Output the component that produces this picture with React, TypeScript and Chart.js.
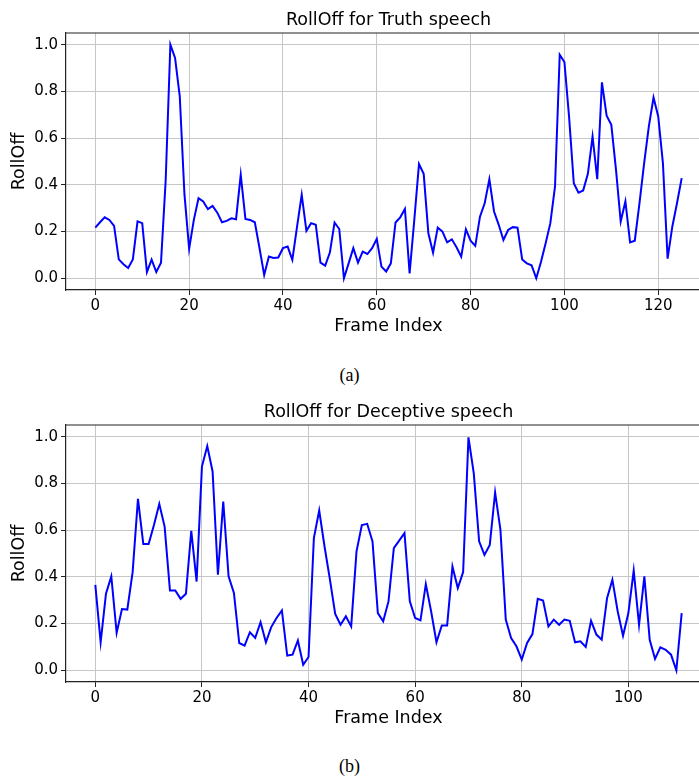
import React, { useEffect, useRef } from "react";
import { Chart, registerables } from "chart.js";

Chart.register(...registerables);

const TRUTH_TITLE = "RollOff for Truth speech";
const DECEPTIVE_TITLE = "RollOff for Deceptive speech";
const X_LABEL = "Frame Index";
const Y_LABEL = "RollOff";

const TRUTH_VALUES = [
  0.217, 0.24, 0.261, 0.25, 0.224, 0.081, 0.06, 0.044, 0.081, 0.244,
  0.236, 0.027, 0.08, 0.027, 0.067, 0.42, 1.0, 0.943, 0.779, 0.36,
  0.126, 0.25, 0.343, 0.329, 0.296, 0.31, 0.281, 0.24, 0.246, 0.257,
  0.253, 0.443, 0.254, 0.25, 0.24, 0.13, 0.014, 0.093, 0.087, 0.089,
  0.129, 0.136, 0.079, 0.22, 0.357, 0.203, 0.236, 0.229, 0.067, 0.054,
  0.11, 0.239, 0.211, 0.0, 0.064, 0.129, 0.067, 0.114, 0.104, 0.129,
  0.169, 0.05, 0.029, 0.064, 0.239, 0.261, 0.297, 0.021, 0.25, 0.489,
  0.447, 0.193, 0.11, 0.217, 0.2, 0.154, 0.167, 0.133, 0.093, 0.21,
  0.161, 0.139, 0.264, 0.321, 0.424, 0.286, 0.229, 0.164, 0.207, 0.219,
  0.217, 0.081, 0.064, 0.056, 0.0, 0.07, 0.15, 0.236, 0.393, 0.957,
  0.926, 0.69, 0.407, 0.367, 0.376, 0.447, 0.607, 0.424, 0.839, 0.696,
  0.657, 0.464, 0.243, 0.329, 0.154, 0.161, 0.321, 0.493, 0.65, 0.774,
  0.693, 0.493, 0.084, 0.221, 0.321, 0.429,
];

const DECEPTIVE_VALUES = [
  0.366, 0.12, 0.328, 0.402, 0.16, 0.262, 0.26, 0.42, 0.734, 0.541,
  0.541, 0.622, 0.712, 0.615, 0.342, 0.342, 0.306, 0.328, 0.597, 0.38,
  0.872, 0.96, 0.851, 0.409, 0.722, 0.402, 0.331, 0.117, 0.106, 0.163,
  0.139, 0.206, 0.12, 0.185, 0.224, 0.256, 0.063, 0.067, 0.128, 0.024,
  0.057, 0.566, 0.684, 0.53, 0.39, 0.241, 0.195, 0.231, 0.188, 0.509,
  0.622, 0.627, 0.552, 0.245, 0.21, 0.295, 0.523, 0.555, 0.587, 0.295,
  0.224, 0.214, 0.369, 0.252, 0.12, 0.192, 0.192, 0.444, 0.352, 0.42,
  0.997, 0.843, 0.552, 0.494, 0.537, 0.761, 0.601, 0.217, 0.138, 0.103,
  0.046, 0.117, 0.155, 0.306, 0.299, 0.188, 0.217, 0.195, 0.217, 0.212,
  0.12, 0.124, 0.1, 0.212, 0.153, 0.131, 0.309, 0.388, 0.252, 0.148,
  0.245, 0.427, 0.195, 0.402, 0.131, 0.049, 0.098, 0.088, 0.067, 0.0,
  0.245,
];

const TRUTH_X_TICKS = [0, 20, 40, 60, 80, 100, 120];
const DECEPTIVE_X_TICKS = [0, 20, 40, 60, 80, 100];
const Y_TICKS = [0.0, 0.2, 0.4, 0.6, 0.8, 1.0];

const CANVAS_W = 720;
const CANVAS_H = 345;
const FONT = "'DejaVu Sans', sans-serif";

function makeConfig(values: number[], xTicks: number[], title: string) {
  const n = values.length - 1;
  const margin = n * 0.05;
  const textPlugin = {
    id: "texts",
    afterDraw(chart: any) {
      const { ctx, chartArea } = chart;
      const cx = (chartArea.left + chartArea.right) / 2;
      ctx.save();
      ctx.strokeStyle = "#222";
      ctx.lineWidth = 1.2;
      ctx.beginPath();
      ctx.moveTo(chartArea.left, chartArea.top);
      ctx.lineTo(chartArea.right, chartArea.top);
      ctx.lineTo(chartArea.right, chartArea.bottom);
      ctx.stroke();
      ctx.fillStyle = "#000";
      ctx.textAlign = "center";
      ctx.textBaseline = "middle";
      ctx.font = `17.5px ${FONT}`;
      ctx.fillText(title, cx, 20);
      ctx.fillText(X_LABEL, cx, 326);
      ctx.translate(19.5, (chartArea.top + chartArea.bottom) / 2);
      ctx.rotate(-Math.PI / 2);
      ctx.fillText(Y_LABEL, 0, 0);
      ctx.restore();
    },
  };
  return {
    type: "line" as const,
    data: {
      datasets: [
        {
          data: values.map((v, i) => ({ x: i, y: v })),
          borderColor: "#0000ff",
          borderWidth: 2,
          pointRadius: 0,
          tension: 0,
          fill: false,
        },
      ],
    },
    options: {
      animation: false as const,
      responsive: false,
      devicePixelRatio: 1,
      layout: { padding: { top: 33, right: CANVAS_W - 711, left: 0, bottom: 0 } },
      plugins: { legend: { display: false }, tooltip: { enabled: false }, title: { display: false } },
      scales: {
        x: {
          type: "linear" as const,
          min: -margin,
          max: n + margin,
          afterBuildTicks: (s: any) => {
            s.ticks = xTicks.map((v) => ({ value: v }));
          },
          afterFit: (s: any) => {
            s.height = 55;
          },
          ticks: {
            font: { family: FONT, size: 15 },
            color: "#000",
            padding: 2,
            maxRotation: 0,
            autoSkip: false,
            callback: (v: any) => String(v),
          },
          grid: { color: "#c6c6c6", lineWidth: 1, tickLength: 5, tickColor: "#222", drawTicks: true },
          border: { color: "#222", width: 1.2 },
        },
        y: {
          type: "linear" as const,
          min: -0.05,
          max: 1.05,
          afterBuildTicks: (s: any) => {
            s.ticks = Y_TICKS.map((v) => ({ value: v }));
          },
          afterFit: (s: any) => {
            s.width = 66;
          },
          ticks: {
            font: { family: FONT, size: 15 },
            color: "#000",
            padding: 3,
            autoSkip: false,
            callback: (v: any) => Number(v).toFixed(1),
          },
          grid: { color: "#c6c6c6", lineWidth: 1, tickLength: 5, tickColor: "#222", drawTicks: true },
          border: { color: "#222", width: 1.2 },
        },
      },
    },
    plugins: [textPlugin],
  };
}

function LineChart({ values, xTicks, title }: { values: number[]; xTicks: number[]; title: string }) {
  const ref = useRef<HTMLCanvasElement | null>(null);
  useEffect(() => {
    if (!ref.current) return;
    const chart = new Chart(ref.current, makeConfig(values, xTicks, title) as any);
    return () => chart.destroy();
  }, [values, xTicks, title]);
  return (
    <canvas
      ref={ref}
      width={CANVAS_W}
      height={CANVAS_H}
      style={{ width: CANVAS_W, height: CANVAS_H, display: "block" }}
    />
  );
}

const captionStyle: React.CSSProperties = {
  position: "absolute",
  left: 0,
  width: 699,
  textAlign: "center",
  fontFamily: "'Liberation Serif', 'Times New Roman', serif",
  fontSize: 18,
  lineHeight: "20px",
  color: "#000",
};

export default function App() {
  return (
    <div
      style={{
        position: "absolute",
        left: 0,
        top: 0,
        width: 699,
        height: 777,
        overflow: "hidden",
        background: "#fff",
      }}
    >
      <div style={{ position: "absolute", left: 0, top: 0 }}>
        <LineChart values={TRUTH_VALUES} xTicks={TRUTH_X_TICKS} title={TRUTH_TITLE} />
      </div>
      <div style={{ ...captionStyle, top: 365 }}>(a)</div>
      <div style={{ position: "absolute", left: 0, top: 392 }}>
        <LineChart values={DECEPTIVE_VALUES} xTicks={DECEPTIVE_X_TICKS} title={DECEPTIVE_TITLE} />
      </div>
      <div style={{ ...captionStyle, top: 756 }}>(b)</div>
    </div>
  );
}
